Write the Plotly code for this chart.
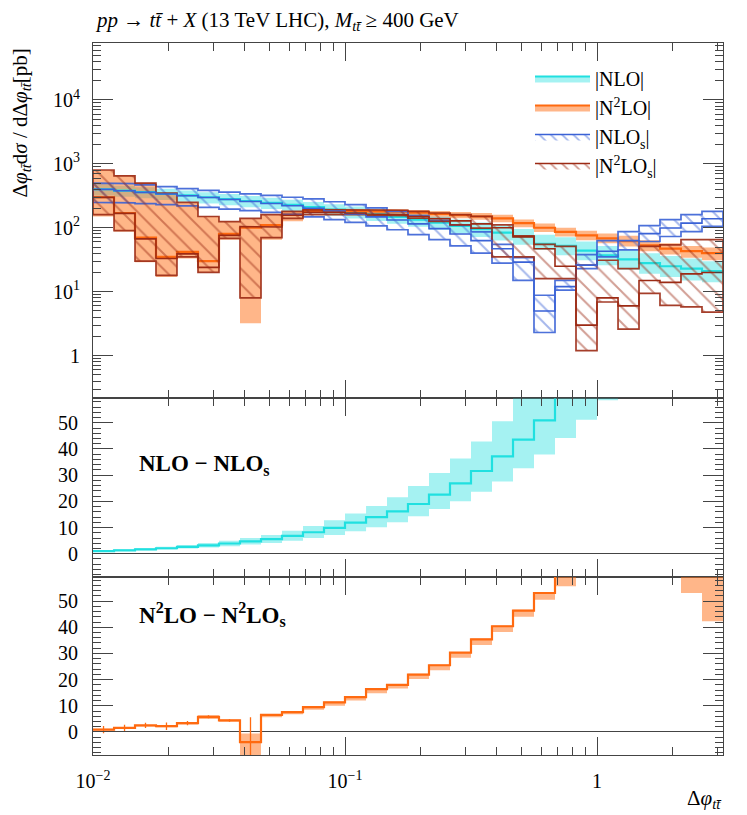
import plotly.graph_objects as go
from plotly.subplots import make_subplots

# ---------------- data ----------------
# bin edges in delta phi (log-spaced, 12 per decade)
edges = [0.01, 0.01212, 0.01468, 0.01778, 0.02154, 0.02610, 0.03162, 0.03831,
         0.04642, 0.05623, 0.06813, 0.08254, 0.1, 0.1212, 0.1468, 0.1778,
         0.2154, 0.2610, 0.3162, 0.3831, 0.4642, 0.5623, 0.6813, 0.8254,
         1.0, 1.212, 1.468, 1.778, 2.154, 2.610, 3.162]

# |NLO|
nlo_c = [400, 380, 360, 340, 320, 300, 280, 262, 245, 228, 210, 193, 177, 162, 148,
         134, 120, 107, 95, 84, 73, 56, 52, 44, 37, 32, 28, 25, 23, 21]
nlo_lo = [320, 305, 290, 272, 256, 240, 224, 210, 196, 182, 168, 154, 140, 128, 116,
          104, 93, 82, 72, 63, 54, 45, 37, 31, 26, 22, 19, 17, 15, 14]
nlo_hi = [480, 455, 430, 408, 384, 360, 336, 315, 295, 275, 254, 234, 215, 198, 182,
          166, 150, 135, 121, 108, 96, 78, 71, 61, 52, 45, 40, 36, 33, 30]

# |N2LO|
n2lo_c = [300, 170, 70, 35, 42, 30, 80, 100, 110, 165, 185, 185, 183, 180, 178,
          172, 165, 158, 150, 140, 118, 100, 86, 76, 68, 62, 53, 47, 43, 40]
n2lo_lo = [150, 87, 29, 17, 33, 20, 65, 3.2, 65, 126, 168, 170, 168, 165, 162,
           156, 149, 141, 133, 122, 102, 86, 73, 64, 57, 51, 43, 38, 34, 31]
n2lo_hi = [800, 660, 505, 350, 245, 150, 125, 140, 160, 182, 200, 200, 198, 196, 195,
           190, 183, 177, 170, 160, 135, 117, 100, 90, 81, 75, 64, 57, 52, 49]

# |NLO_s|
nlos_c = [399, 379, 358, 338, 317, 297, 276, 257, 239, 221, 202, 183, 165, 148, 132,
          115, 97, 80, 63, 47, 29, 5, 12, 26, 43, 63, 81, 99, 118, 138]
nlos_lo = [250, 245, 238, 230, 220, 208, 196, 185, 174, 162, 148, 134, 121, 107, 93,
           78, 65, 52, 40, 28, 15, 2.3, 10.6, 23, 35, 45, 61, 73, 87, 105]
nlos_hi = [500, 490, 470, 440, 410, 385, 362, 340, 320, 300, 283, 255, 230, 205, 181,
           155, 130, 110, 86, 55, 34, 8.8, 15, 38, 63, 87, 108, 134, 160, 181]

# |N2LO_s|
n2los_c = [299, 168, 67, 33, 39, 24, 76, 104, 103, 157, 175, 174, 170, 164, 160,
           150, 139, 128, 115, 100, 72, 47, 25, 3, 8, 6, 15, 14, 19, 20]
n2los_lo = [160, 90, 30, 18, 35, 20, 68, 8, 70, 140, 160, 160, 160, 158, 155,
            141, 126, 111, 99, 35, 35, 16, 16, 1.2, 6.9, 2.6, 9.4, 6.1, 5.8, 4.8]
n2los_hi = [800, 650, 500, 350, 250, 150, 125, 140, 160, 180, 192, 192, 192, 190, 188,
            181, 170, 160, 151, 111, 75, 55, 51, 26, 31, 23, 51, 54, 65, 65]

# NLO - NLO_s
d1_c = [1.0, 1.3, 1.7, 2.1, 2.6, 3.2, 3.9, 4.7, 5.6, 6.8, 8.2, 9.9, 11.9, 14.0, 16.2,
        19.0, 22.6, 26.9, 31.6, 37.2, 43.6, 50.9, 64, 70, 80, None, None, None, None, None]
d1_lo = [0.7, 1.0, 1.3, 1.6, 2.0, 2.4, 2.9, 3.5, 4.1, 5.0, 6.0, 7.2, 8.6, 10.1, 12.0,
         14.3, 17.1, 20.0, 23.7, 27.6, 32.6, 37.9, 44.2, 51.2, 58.6, None, None, None, None, None]
d1_hi = [1.3, 1.7, 2.2, 2.7, 3.3, 4.1, 5.0, 6.0, 7.2, 8.8, 10.6, 12.8, 15.4, 18.2, 21.6,
         25.9, 30.8, 36.4, 42.9, 50.6, 62, 70, 80, 90, 100, None, None, None, None, None]

# N2LO - N2LO_s
d2_c = [0.9, 1.6, 2.5, 2.2, 3.4, 5.8, 4.4, -3.9, 6.5, 7.6, 9.5, 11.3, 13.3, 16.4, 18.0,
        21.9, 25.5, 30.3, 35.4, 40.4, 46.4, 53.1, 61, 73, 76, 68, 67, 61, 62, 60]
d2_lo = [0.6, 1.3, 2.1, 1.8, 2.9, 5.0, 3.9, -9.5, 5.6, 6.8, 8.5, 10.0, 12.0, 14.8, 16.6,
         20.2, 23.6, 28.4, 33.2, 38.2, 44.0, 50.5, 55.7, 66, 70, 62, 61, 59.8, 53.1, 42.3]
d2_hi = [1.2, 1.9, 2.8, 2.6, 3.8, 6.4, 4.8, -0.6, 6.9, 8.0, 9.9, 11.6, 13.6, 16.7, 18.3,
         22.2, 25.8, 30.6, 35.7, 40.7, 46.7, 53.4, 65, 80, 82, 75, 74, 70, 70, 72]
d2_err = [1.4, 1.2, 1.0, 1.4, 0.8, 0.6, 0.5, 9.5, 0, 0, 0, 0, 0, 0, 0,
          0, 0, 0, 0, 0, 0, 0, 0, 0, 0, 0, 0, 0, 0, 0]

# ---------------- styles ----------------
CY_LINE = "#20e0e0"
CY_FILL = "rgba(40,225,225,0.42)"
OR_LINE = "#ff6a10"
OR_FILL = "rgba(255,110,20,0.50)"
BL_LINE = "#3a62d6"
RD_LINE = "#9c2a14"
AX = "#444444"
FONT = "Liberation Serif"


def runs(vals):
    out, cur = [], []
    for i, v in enumerate(vals):
        if v is None:
            if cur:
                out.append(cur)
            cur = []
        else:
            cur.append(i)
    if cur:
        out.append(cur)
    return out


def step_line(vals):
    xs, ys = [], []
    for r in runs(vals):
        for i in r:
            xs += [edges[i], edges[i + 1]]
            ys += [vals[i], vals[i]]
        xs.append(None)
        ys.append(None)
    return xs, ys


def band_poly(lo, hi):
    xs, ys = [], []
    for r in runs(hi):
        ux, uy, lx, ly = [], [], [], []
        for i in r:
            ux += [edges[i], edges[i + 1]]
            uy += [hi[i], hi[i]]
            lx += [edges[i], edges[i + 1]]
            ly += [lo[i], lo[i]]
        xs += ux + lx[::-1] + [ux[0], None]
        ys += uy + ly[::-1] + [uy[0], None]
    return xs, ys


fig = make_subplots(rows=3, cols=1, shared_xaxes=True, vertical_spacing=0,
                    row_heights=[355.6, 178.4, 178.3])


def solid_band(lo, hi, fill, row):
    bx, by = band_poly(lo, hi)
    fig.add_trace(go.Scatter(x=bx, y=by, mode="lines", fill="toself", fillcolor=fill,
                             line=dict(width=0), hoverinfo="skip", showlegend=False), row=row, col=1)


def central(c, line, row, width=2.2):
    lx, ly = step_line(c)
    fig.add_trace(go.Scatter(x=lx, y=ly, mode="lines", line=dict(color=line, width=width),
                             hoverinfo="skip", showlegend=False), row=row, col=1)


def hatch_band(lo, hi, line, row):
    bx, by = band_poly(lo, hi)
    fig.add_trace(go.Scatter(x=bx, y=by, mode="lines", fill="toself",
                             fillcolor="rgba(0,0,0,0)",
                             fillpattern=dict(shape="\\", fgcolor=line, bgcolor="rgba(0,0,0,0)",
                                              size=11, solidity=0.18, fillmode="overlay"),
                             line=dict(color=line, width=1.7), opacity=0.9,
                             hoverinfo="skip", showlegend=False), row=row, col=1)


# top panel
solid_band(nlo_lo, nlo_hi, CY_FILL, 1)
solid_band(n2lo_lo, n2lo_hi, OR_FILL, 1)
central(nlo_c, CY_LINE, 1)
central(n2lo_c, OR_LINE, 1)
hatch_band(nlos_lo, nlos_hi, BL_LINE, 1)
hatch_band(n2los_lo, n2los_hi, RD_LINE, 1)
central(nlos_c, BL_LINE, 1, 1.6)
central(n2los_c, RD_LINE, 1, 1.6)

# legend entries
legend_items = [("|NLO|", CY_FILL, CY_LINE, None),
                ("|N<sup>2</sup>LO|", OR_FILL, OR_LINE, None),
                ("|NLO<sub>s</sub>|", "rgba(0,0,0,0)", BL_LINE, "\\"),
                ("|N<sup>2</sup>LO<sub>s</sub>|", "rgba(0,0,0,0)", RD_LINE, "\\")]
for name, fc, lc, pat in legend_items:
    kw = {}
    if pat:
        kw["fillpattern"] = dict(shape=pat, fgcolor=lc, bgcolor="rgba(0,0,0,0)",
                                 size=8, solidity=0.22, fillmode="overlay")
    fig.add_trace(go.Scatter(x=[None], y=[None], mode="lines", fill="toself", fillcolor=fc,
                             line=dict(color=lc, width=2 if not pat else 1.6), name=name,
                             **kw), row=1, col=1)

# middle panel
solid_band(d1_lo, d1_hi, CY_FILL, 2)
central(d1_c, CY_LINE, 2)

# bottom panel
solid_band(d2_lo, d2_hi, OR_FILL, 3)
central(d2_c, OR_LINE, 3)
centers = [(edges[i] * edges[i + 1]) ** 0.5 for i in range(len(d2_c))]
fig.add_trace(go.Scatter(x=centers, y=d2_c, mode="markers", marker=dict(size=0.1, color=OR_LINE),
                         error_y=dict(type="data", array=d2_err, color=OR_LINE, thickness=1.3, width=0),
                         hoverinfo="skip", showlegend=False), row=3, col=1)

# ---------------- axes ----------------
TF = dict(family=FONT, size=20, color="black")
xminor = [0.02, 0.03, 0.04, 0.05, 0.06, 0.07, 0.08, 0.09,
          0.2, 0.3, 0.4, 0.5, 0.6, 0.7, 0.8, 0.9, 2, 3]
for r in (1, 2, 3):
    fig.update_xaxes(type="log", range=[-2, 0.5], tickvals=[0.01, 0.1, 1],
                     ticktext=["10<sup>−2</sup>", "10<sup>−1</sup>", "1"],
                     showticklabels=(r == 3), ticks="inside", ticklen=18, tickwidth=1,
                     tickcolor=AX, showline=True, linecolor=AX, linewidth=1,
                     mirror="allticks", showgrid=False, zeroline=False, automargin=False,
                     minor=dict(tickvals=xminor, ticks="inside", ticklen=8, tickcolor=AX,
                                tickwidth=1, showgrid=False),
                     tickfont=TF, ticklabelstandoff=8,
                     row=r, col=1)

yminor_top = []
for d in [0.1, 1, 10, 100, 1000, 10000]:
    for m in range(2, 10):
        yminor_top.append(round(d * m, 6))
fig.update_yaxes(type="log", range=[-0.67, 4.89], tickvals=[1, 10, 100, 1000, 10000],
                 ticktext=["1", "10<sup>1</sup>", "10<sup>2</sup>", "10<sup>3</sup>", "10<sup>4</sup>"],
                 ticks="inside", ticklen=20, tickwidth=1, tickcolor=AX,
                 showline=True, linecolor=AX, linewidth=1, mirror="allticks",
                 showgrid=False, zeroline=False, automargin=False,
                 minor=dict(tickvals=yminor_top, ticks="inside", ticklen=8, tickcolor=AX,
                            tickwidth=1, showgrid=False),
                 tickfont=TF, ticklabelstandoff=8,
                 row=1, col=1)
for r in (2, 3):
    fig.update_yaxes(range=[-8.8, 59.3], tickvals=[0, 10, 20, 30, 40, 50],
                     ticks="inside", ticklen=20, tickwidth=1, tickcolor=AX,
                     showline=True, linecolor=AX, linewidth=1, mirror="allticks",
                     showgrid=False, zeroline=True, zerolinecolor=AX, zerolinewidth=1,
                     automargin=False,
                     minor=dict(dtick=2, tick0=0, ticks="inside", ticklen=8, tickcolor=AX,
                                tickwidth=1, showgrid=False),
                     tickfont=TF, ticklabelstandoff=10,
                     row=r, col=1)

H = 712.0


def py(p):
    return (755 - p) / H


def px(p):
    return (p - 93) / 630.0


annots = [
    dict(text="<i>pp</i> → <i>t</i><i>t̄</i> + <i>X</i> (13 TeV LHC), <i>M</i><sub><i>tt̄</i></sub> ≥ 400 GeV",
         x=px(93), y=py(21), xanchor="left", yanchor="middle", font=dict(size=21)),
    dict(text="Δ<i>φ</i><sub><i>tt̄</i></sub>d<i>σ</i> / dΔ<i>φ</i><sub><i>tt̄</i></sub>[pb]",
         x=px(20), y=py(47), xanchor="center", yanchor="top", textangle=-90, font=dict(size=21)),
    dict(text="Δ<i>φ</i><sub><i>tt̄</i></sub>", x=px(724), y=py(799), xanchor="right",
         yanchor="middle", font=dict(size=21)),
    dict(text="<b>NLO − NLO<sub>s</sub></b>", x=px(137), y=py(465), xanchor="left",
         yanchor="middle", font=dict(size=23)),
    dict(text="<b>N<sup>2</sup>LO − N<sup>2</sup>LO<sub>s</sub></b>", x=px(137), y=py(614),
         xanchor="left", yanchor="middle", font=dict(size=23)),
]
for a in annots:
    a.update(xref="paper", yref="paper", showarrow=False)
    a["font"] = dict(family=FONT, color="black", size=a["font"]["size"])

fig.update_layout(
    width=747, height=815,
    margin=dict(l=93, r=24, t=43, b=60, autoexpand=False),
    paper_bgcolor="white", plot_bgcolor="white",
    font=dict(family=FONT, size=18, color="black"),
    annotations=annots,
    showlegend=True,
    legend=dict(x=px(530), y=py(59), xanchor="left", yanchor="top",
                bgcolor="rgba(0,0,0,0)", borderwidth=0,
                font=dict(family=FONT, size=20, color="black"),
                itemwidth=55, tracegroupgap=0),
)

fig.write_html("out.html", config={"displayModeBar": False},
               post_script="document.body.style.margin='0';document.body.style.overflow='hidden';")
